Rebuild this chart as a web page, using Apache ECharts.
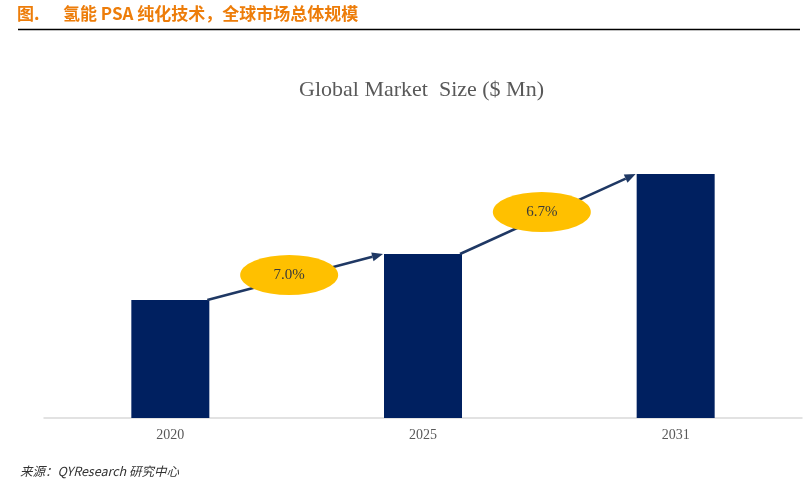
<!DOCTYPE html>
<html>
<head>
<meta charset="utf-8">
<script src="https://cdn.jsdelivr.net/npm/echarts@6/dist/echarts.min.js"></script>
<style>
  html, body { margin: 0; padding: 0; background: #fff; }
  #chart { width: 810px; height: 490px; }
</style>
</head>
<body>
<div id="chart"></div>
<script>
// chart data
const years = ['2020', '2025', '2031']
const marketSize = [118, 164, 244]
const cagr = ['7.0%', '6.7%']

const barW = 78
const navy = '#002060'
const arrowColor = '#1F3864'

const chart = echarts.init(document.getElementById('chart'))

// arrows + CAGR ellipses between bar tops
function renderGrowth(params, api) {
  const i = api.value(0)
  const a = api.coord([i, marketSize[i]])
  const b = api.coord([i + 1, marketSize[i + 1]])
  const x1 = a[0] + barW / 2 - 2
  const y1 = a[1]
  const x2 = b[0] - barW / 2 - 1
  const y2 = b[1]
  const ang = Math.atan2(y2 - y1, x2 - x1)
  const hl = 11, hw = 4.5
  const bx = x2 - hl * Math.cos(ang), by = y2 - hl * Math.sin(ang)
  const px = -Math.sin(ang) * hw, py = Math.cos(ang) * hw
  const mx = (x1 + x2) / 2 - 6
  const my = (y1 + y2) / 2 - 2
  return {
    type: 'group',
    children: [
      {
        type: 'line',
        shape: { x1: x1, y1: y1, x2: bx, y2: by },
        style: { stroke: arrowColor, lineWidth: 2.5 }
      },
      {
        type: 'polygon',
        shape: { points: [[x2, y2], [bx + px, by + py], [bx - px, by - py]] },
        style: { fill: arrowColor }
      },
      {
        type: 'circle',
        x: mx, y: my, scaleX: 2.45,
        shape: { cx: 0, cy: 0, r: 20 },
        style: { fill: '#FFC000' }
      },
      {
        type: 'text',
        x: mx, y: my,
        style: {
          text: cagr[i],
          fill: '#3a3a3a',
          font: '15px "Liberation Serif"',
          align: 'center',
          verticalAlign: 'middle'
        }
      }
    ]
  }
}

chart.setOption({
  animation: false,
  title: {
    text: 'Global Market  Size ($ Mn)',
    left: 294,
    top: 74,
    textStyle: {
      fontFamily: 'Liberation Serif',
      fontSize: 22,
      fontWeight: 'normal',
      color: '#595959'
    }
  },
  graphic: [
    {
      type: 'text',
      left: 17, top: 5,
      style: { text: '图.', fill: '#ED7D0A', font: 'bold 17px "Noto Sans CJK SC"' }
    },
    {
      type: 'text',
      left: 63, top: 5,
      style: { text: '氢能 PSA 纯化技术，全球市场总体规模', fill: '#ED7D0A', font: 'bold 17px "Noto Sans CJK SC"' }
    },
    {
      type: 'line',
      shape: { x1: 18, y1: 29.5, x2: 800, y2: 29.5 },
      style: { stroke: '#000', lineWidth: 1.5 }
    },
    {
      type: 'text',
      left: 20, top: 465,
      style: { text: '来源：QYResearch 研究中心', fill: '#333', font: 'italic 12.5px "Noto Sans CJK SC"' }
    }
  ],
  grid: { left: 44, right: 8, top: 118, bottom: 72, containLabel: false },
  xAxis: {
    type: 'category',
    data: years,
    axisLine: { lineStyle: { color: '#D9D9D9', width: 1.5 } },
    axisTick: { show: false },
    axisLabel: {
      margin: 10,
      fontFamily: 'Liberation Serif',
      fontSize: 14,
      color: '#595959'
    }
  },
  yAxis: {
    type: 'value',
    min: 0,
    max: 300,
    show: false,
    splitLine: { show: false }
  },
  series: [
    {
      type: 'bar',
      data: marketSize,
      barWidth: barW,
      itemStyle: { color: navy },
      z: 2
    },
    {
      type: 'custom',
      data: [[0], [1]],
      renderItem: renderGrowth,
      z: 3
    }
  ]
})
</script>
</body>
</html>
